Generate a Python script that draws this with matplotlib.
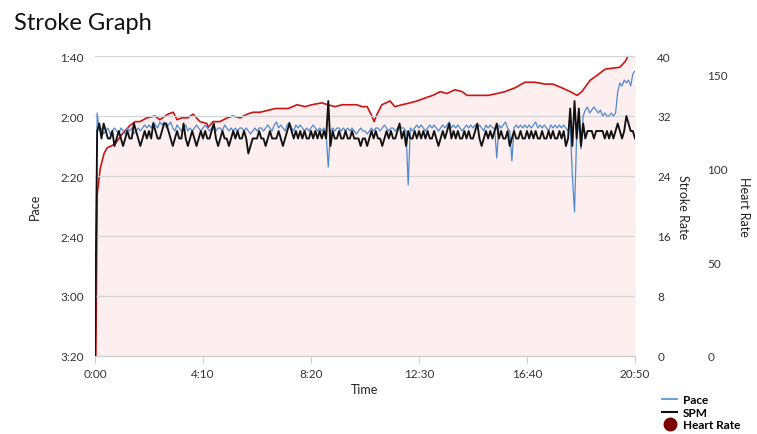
import numpy as np
import matplotlib.pyplot as plt
from matplotlib.lines import Line2D
from matplotlib.ticker import FuncFormatter

plt.rcParams['font.family'] = ['Lato', 'DejaVu Sans']

# one sample every 5 s, 0:00 .. 20:50
sample_step = 5

spm = [
    0, 30, 31, 29, 31, 30, 29, 29, 30, 28, 29, 30, 29, 28, 29, 30, 29, 29, 31, 30, 29, 28, 29, 30, 29,
    30, 29, 31, 30, 29, 29, 30, 31, 31, 30, 29, 28, 29, 30, 29, 29, 31, 29, 28, 29, 30, 29, 28, 29, 30,
    29, 30, 29, 29, 30, 31, 29, 28, 29, 30, 29, 29, 28, 29, 30, 29, 30, 29, 29, 30, 29, 27, 28, 29, 29,
    29, 30, 29, 29, 28, 29, 30, 29, 29, 29, 30, 29, 28, 29, 30, 31, 30, 29, 30, 29, 30, 29, 30, 29, 29,
    30, 29, 30, 29, 30, 29, 30, 29, 34, 28, 30, 29, 29, 30, 29, 29, 30, 29, 29, 30, 29, 29, 29, 28, 29,
    29, 28, 29, 30, 29, 30, 29, 29, 28, 29, 30, 29, 30, 29, 29, 30, 31, 29, 30, 28, 30, 29, 29, 30, 29,
    30, 29, 30, 29, 30, 29, 29, 30, 29, 28, 29, 30, 29, 30, 31, 29, 30, 29, 30, 29, 29, 30, 29, 30, 29,
    29, 30, 31, 29, 28, 29, 30, 29, 30, 29, 30, 31, 29, 30, 29, 29, 30, 28, 29, 30, 29, 29, 30, 29, 29,
    30, 29, 30, 29, 30, 29, 29, 30, 29, 29, 30, 29, 30, 29, 29, 30, 29, 30, 28, 29, 33, 28, 34, 29, 33,
    28, 31, 29, 30, 30, 30, 29, 30, 30, 30, 30, 29, 30, 29, 30, 29, 30, 31, 30, 29, 30, 32, 31, 30, 30,
    29,
]

# pace in seconds per 500 m
pace = [
    200, 119, 125, 124, 126, 125, 124, 126, 125, 124, 125, 126, 124, 125, 126, 124, 125, 124, 126, 125, 124, 125, 124, 123, 124,
    123, 124, 122, 123, 124, 122, 123, 122, 124, 123, 122, 124, 125, 123, 124, 125, 124, 123, 125, 124, 125, 124, 123, 124, 125,
    124, 123, 124, 125, 124, 123, 125, 124, 124, 125, 123, 124, 125, 124, 125, 124, 125, 124, 124, 125, 124, 125, 126, 125, 124,
    125, 124, 124, 125, 124, 123, 124, 125, 123, 122, 124, 123, 124, 125, 123, 122, 124, 125, 123, 124, 123, 124, 125, 124, 125,
    124, 123, 124, 125, 124, 125, 124, 126, 137, 125, 124, 125, 124, 124, 125, 124, 125, 124, 125, 124, 125, 126, 125, 124, 125,
    125, 126, 125, 124, 125, 124, 124, 125, 124, 123, 124, 125, 124, 124, 125, 124, 123, 124, 124, 125, 143, 124, 125, 124, 123,
    124, 123, 124, 125, 124, 123, 124, 123, 124, 125, 124, 123, 124, 123, 122, 124, 123, 124, 123, 124, 125, 124, 123, 124, 123,
    124, 123, 124, 123, 124, 125, 123, 124, 123, 124, 124, 134, 123, 124, 123, 122, 124, 125, 135, 124, 123, 124, 123, 124, 123,
    124, 123, 124, 123, 122, 124, 123, 124, 123, 124, 125, 123, 124, 123, 124, 123, 124, 123, 124, 125, 123, 140, 152, 126, 123,
    131, 120, 118, 117, 119, 118, 117, 118, 119, 118, 120, 119, 120, 120, 119, 120, 119, 112, 109, 110, 108, 109, 108, 110, 106,
    105,
]

hr_time = [0, 2, 5, 12, 21, 28, 46, 65, 81, 93, 104, 120, 139, 150, 169, 181, 190, 201, 215, 227,
           243, 259, 262, 273, 289, 306, 319, 336, 352, 366, 382, 400, 417, 433, 447, 468, 486, 502,
           525, 539, 556, 572, 590, 606, 618, 630, 641, 646, 653, 664, 683, 694, 711, 729, 745, 769,
           782, 799, 815, 833, 850, 861, 875, 896, 910, 931, 949, 972, 995, 1019, 1042, 1060, 1081,
           1100, 1116, 1127, 1146, 1164, 1181, 1215, 1227, 1234, 1250]
hr = [0, 0, 86, 100, 108, 111, 113, 119, 123, 125, 125, 127, 128, 126, 129, 130, 126, 127, 127, 129,
      125, 124, 122, 125, 125, 127, 128, 127, 129, 130, 130, 131, 132, 132, 132, 134, 133, 134,
      135, 134, 133, 134, 134, 134, 133, 133, 128, 125, 129, 134, 136, 133, 134, 135, 136, 138,
      139, 141, 140, 142, 141, 139, 139, 139, 139, 140, 141, 143, 146, 146, 145, 145, 143,
      141, 139, 141, 147, 150, 153, 154, 157, 160, 160]

time_ticks = [0, 250, 500, 750, 1000, 1250]
pace_ticks = [100, 120, 140, 160, 180, 200]
spm_ticks = [0, 8, 16, 24, 32, 40]
hr_ticks = [0, 50, 100, 150]

t = np.arange(len(spm)) * sample_step


def mmss(v, pos=None):
    v = int(round(v))
    return f"{v // 60}:{v % 60:02d}"


fig = plt.figure(figsize=(7.57, 4.35), dpi=100)
ax = fig.add_subplot(111)
fig.subplots_adjust(left=95 / 757, right=635 / 757, bottom=78 / 435, top=378 / 435)
ax_spm = ax.twinx()
ax_hr = ax.twinx()

# heart rate goes to the back, pace grid above it, spm on top
ax_hr.set_zorder(0)
ax.set_zorder(1)
ax_spm.set_zorder(2)
ax.patch.set_visible(False)
ax_spm.patch.set_visible(False)

ax_hr.fill_between(hr_time, hr, 0, color='#fdefef', lw=0)
ax_hr.plot(hr_time, hr, color='#cc1414', lw=1.2)
ax_hr.set_ylim(0, 160)
ax_hr.set_yticks(hr_ticks)

ax.plot(t, pace, color='#4f8ad0', lw=0.9)
ax.set_ylim(200, 100)
ax.set_yticks(pace_ticks)
ax.yaxis.set_major_formatter(FuncFormatter(mmss))
ax.grid(axis='y', color='#d4d4d4', lw=0.9)
ax.set_axisbelow(True)

ax_spm.plot(t, spm, color='#111111', lw=1.35)
ax_spm.set_ylim(0, 40)
ax_spm.set_yticks(spm_ticks)

ax.set_xlim(0, 1250)
ax.set_xticks(time_ticks)
ax.xaxis.set_major_formatter(FuncFormatter(mmss))

for a in (ax, ax_spm, ax_hr):
    for s in a.spines.values():
        s.set_visible(False)
ax.spines['bottom'].set_visible(True)
ax.spines['bottom'].set_color('#cccccc')

ax.tick_params(axis='x', length=5, color='#cccccc', labelsize=8.5, labelcolor='#333333', pad=4)
ax.tick_params(axis='y', length=0, labelsize=8.5, labelcolor='#333333', pad=8)
ax_spm.tick_params(axis='y', length=0, labelsize=8.5, labelcolor='#333333', pad=16)
ax_hr.tick_params(axis='y', length=0, labelsize=8.5, labelcolor='#333333', pad=52)

ax.text(-0.111, 0.5, 'Pace', transform=ax.transAxes, rotation=90,
        ha='center', va='center', fontsize=9, color='#222222')
ax.text(0.5, -0.11, 'Time', transform=ax.transAxes,
        ha='center', va='center', fontsize=9, color='#222222')
ax.text(1.089, 0.5, 'Stroke Rate', transform=ax.transAxes, rotation=270,
        ha='center', va='center', fontsize=9, color='#222222')
ax.text(1.202, 0.5, 'Heart Rate', transform=ax.transAxes, rotation=270,
        ha='center', va='center', fontsize=9, color='#222222')

fig.text(14 / 757, 1 - 23 / 435, 'Stroke Graph', ha='left', va='center',
         fontsize=17, color='#111111')

handles = [
    Line2D([], [], color='#4f8ad0', lw=1.2),
    Line2D([], [], color='#111111', lw=1.5),
    Line2D([], [], color='#7a0000', lw=0, marker='o', markersize=9),
]
fig.legend(handles, ['Pace', 'SPM', 'Heart Rate'], loc='upper left',
           bbox_to_anchor=(656 / 757, 1 - 389 / 435), frameon=False,
           prop={'size': 8.5, 'weight': 'bold'}, handlelength=1.3,
           handletextpad=0.5, labelspacing=0.15, borderpad=0)

fig.savefig('out.png', dpi=100)
